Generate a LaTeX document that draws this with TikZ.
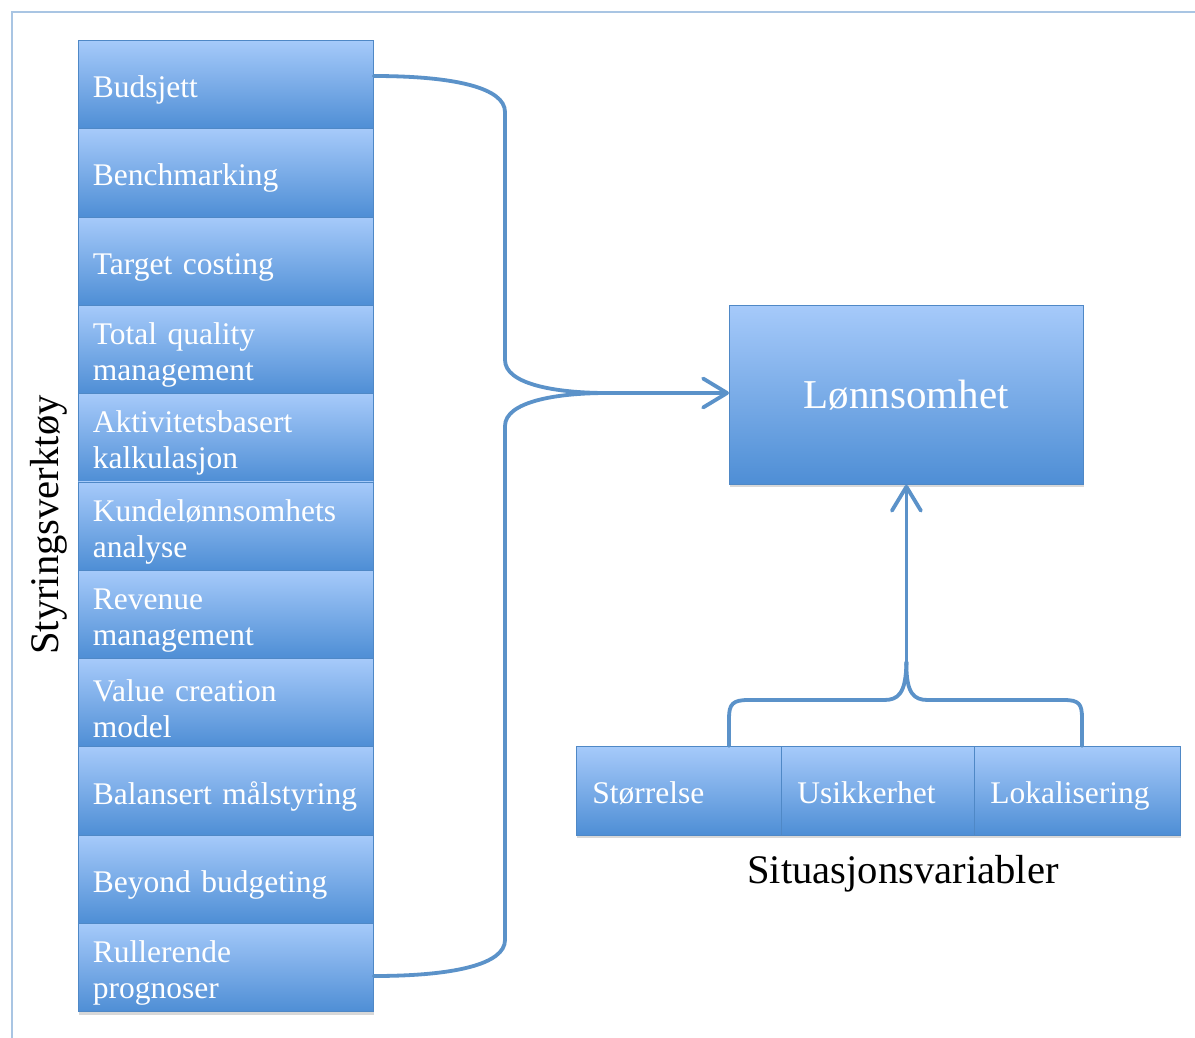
\documentclass[tikz,border=0pt]{standalone}
\usepackage{fontspec}
\setmainfont{Liberation Serif}
\usetikzlibrary{arrows.meta,shadows,calc}
\definecolor{boxtop}{HTML}{A6CAFA}
\definecolor{boxbot}{HTML}{4E8ED5}
\definecolor{boxedge}{HTML}{4F88C6}
\definecolor{conncol}{HTML}{5B92C9}
\definecolor{framecol}{HTML}{A9C5E3}
\tikzset{
  toolbox/.style={draw=boxedge, line width=0.8pt, top color=boxtop, bottom color=boxbot,
    drop shadow={shadow xshift=1pt, shadow yshift=-3pt, opacity=0.3},
    minimum width=295pt, minimum height=88.3pt, text width=266pt, inner xsep=14.5pt,
    inner ysep=0pt, align=left, anchor=north west, text=white,
    font=\fontsize{31.5}{36}\selectfont, execute at begin node={\rule{0pt}{33pt}}},
  varbox/.style={draw=boxedge, line width=0.8pt, top color=boxtop, bottom color=boxbot,
    drop shadow={shadow xshift=1pt, shadow yshift=-3pt, opacity=0.3},
    minimum height=89pt, inner xsep=16pt, inner ysep=0pt, align=left,
    anchor=north west, text=white, font=\fontsize{31.5}{36}\selectfont,
    text height=33pt, text depth=8pt},
  mainbox/.style={draw=boxedge, line width=0.8pt, top color=boxtop, bottom color=boxbot,
    drop shadow={shadow xshift=1pt, shadow yshift=-3pt, opacity=0.3},
    minimum width=354pt, minimum height=179pt, anchor=north west, text=white,
    font=\fontsize{41}{46}\selectfont},
  conn/.style={draw=conncol, line width=3.8pt, line cap=round, line join=round},
  barb/.style={-{Straight Barb[length=24pt,width=29pt,line cap=round,line join=round]}},
  bigtext/.style={font=\fontsize{40.6}{46}\selectfont, text=black}
}
\begin{document}
\begin{tikzpicture}[x=1pt,y=-1pt]
\useasboundingbox (0,0) rectangle (1195,1037);
\fill[white] (0,0) rectangle (1195,1037);
% outer frame
\draw[framecol, line width=2.5pt] (12,1045) -- (12,12) -- (1205,12);

% tool boxes
\node[toolbox] (b1)  at (78,40)     {Budsjett};
\node[toolbox] (b2)  at (78,128.3)  {Benchmarking};
\node[toolbox] (b3)  at (78,216.6)  {Target costing};
\node[toolbox] (b4)  at (78,304.9)  {Total quality\\management};
\node[toolbox] (b5)  at (78,393.2)  {Aktivitetsbasert\\kalkulasjon};
\node[toolbox] (b6)  at (78,481.5)  {Kundelønnsomhets\\analyse};
\node[toolbox] (b7)  at (78,569.8)  {Revenue\\management};
\node[toolbox] (b8)  at (78,658.1)  {Value creation\\model};
\node[toolbox] (b9)  at (78,746.4)  {Balansert målstyring};
\node[toolbox] (b10) at (78,834.7)  {Beyond budgeting};
\node[toolbox] (b11) at (78,923)    {Rullerende\\prognoser};

% side label
\node[bigtext, rotate=90] (sv) at (49,525) {Styringsverktøy};

% main box
\node[mainbox] (L) at (729,305) {Lønnsomhet};

% situation boxes
\node[varbox, minimum width=205pt, text width=173pt] (s1) at (576,746) {Størrelse};
\node[varbox, minimum width=193pt, text width=161pt] (s2) at (781,746) {Usikkerhet};
\node[varbox, minimum width=206pt, text width=174pt] (s3) at (974,746) {Lokalisering};
\node[bigtext] (sit) at (903,874) {Situasjonsvariabler};

% left bracket
\coordinate (j) at (607,393);
\coordinate (t1) at (b1.east |- 0,76);
\coordinate (t11) at (b11.east |- 0,976);
\draw[conn] (t1) .. controls (455,76) and (505,88) .. (505,112)
  -- (505,360) .. controls (505,384) and (555,393) .. (j);
\draw[conn] (j) .. controls (555,393) and (505,402) .. (505,426)
  -- (505,940) .. controls (505,964) and (455,976) .. (t11);
\draw[conn, barb] (j) -- (L.west |- j);

% bottom bracket
\coordinate (sl) at ($(s1.north west)+(153,0)$);
\coordinate (sr) at ($(s3.north west)+(108,0)$);
\coordinate (k) at (L.south |- 0,662);
\draw[conn] (sl) -- (729,718) .. controls (729,704) and (733,700) .. (748,700)
  -- (884,700) .. controls (898,700) and (906,694) .. (k);
\draw[conn] (k) .. controls (906,694) and (914,700) .. (928,700)
  -- (1064,700) .. controls (1079,700) and (1082,704) .. (1082,718) -- (sr);
\draw[conn, barb] (k) -- (L.south);
\end{tikzpicture}
\end{document}
